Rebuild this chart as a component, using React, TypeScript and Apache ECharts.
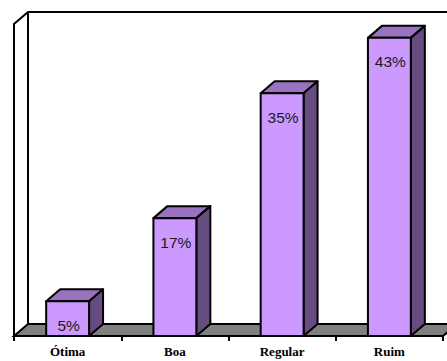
import React, { useEffect, useRef } from "react";
import * as echarts from "echarts";

const categories = ["Ótima", "Boa", "Regular", "Ruim"];
const percentages = [5, 17, 35, 43];

const AXIS_MAX = 45;
const DEPTH_X = 14;
const DEPTH_Y = 12;
const INK = "#000000";

// Back wall, side wall and floor of the 3D box, derived from the plot rectangle.
function renderRoom(params: any, api: any) {
  const cs = params.coordSys;
  const l = cs.x, r = cs.x + cs.width, t = cs.y, b = cs.y + cs.height;
  const lineStyle = { stroke: INK, lineWidth: 2, fill: "none" };
  return {
    type: "group",
    children: [
      {
        type: "polygon",
        shape: { points: [[l, b], [l + DEPTH_X, b - DEPTH_Y], [r + DEPTH_X, b - DEPTH_Y], [r, b]] },
        style: { fill: "#808080", stroke: INK, lineWidth: 2 },
      },
      {
        type: "polyline",
        shape: { points: [[l, b], [l, t], [l + DEPTH_X, t - DEPTH_Y], [r + DEPTH_X, t - DEPTH_Y]] },
        style: lineStyle,
      },
      {
        type: "line",
        shape: { x1: l + DEPTH_X, y1: t - DEPTH_Y, x2: l + DEPTH_X, y2: b - DEPTH_Y },
        style: lineStyle,
      },
    ],
  };
}

// One extruded column: top face, side face, front face and its percentage label.
function renderColumn(_params: any, api: any) {
  const value = api.value(1);
  const [cx, top] = api.coord([api.value(0), value]);
  const [, base] = api.coord([api.value(0), 0]);
  const width = api.size([1, 0])[0] * 0.4;
  const x0 = cx - width / 2;
  const x1 = cx + width / 2;
  const edge = { stroke: INK, lineWidth: 2, lineJoin: "round" };
  return {
    type: "group",
    children: [
      {
        type: "polygon",
        shape: { points: [[x0, top], [x0 + DEPTH_X, top - DEPTH_Y], [x1 + DEPTH_X, top - DEPTH_Y], [x1, top]] },
        style: { fill: "#9973BF", ...edge },
      },
      {
        type: "polygon",
        shape: { points: [[x1, top], [x1 + DEPTH_X, top - DEPTH_Y], [x1 + DEPTH_X, base - DEPTH_Y], [x1, base]] },
        style: { fill: "#664C80", ...edge },
      },
      {
        type: "rect",
        shape: { x: x0, y: top, width, height: base - top },
        style: { fill: "#CC99FF", ...edge },
      },
      {
        type: "text",
        x: cx + 1,
        y: top + 24,
        style: {
          text: `${value}%`,
          fill: "#1a1a1a",
          font: "15.5px 'Liberation Sans', Arial, sans-serif",
          textAlign: "center",
          textVerticalAlign: "middle",
        },
      },
    ],
  };
}

export default function App() {
  const ref = useRef<HTMLDivElement>(null);

  useEffect(() => {
    const chart = echarts.init(ref.current!, undefined, { renderer: "svg" });
    chart.setOption({
      animation: false,
      backgroundColor: "#ffffff",
      grid: { left: 14, right: 4, top: 24, bottom: 25 },
      xAxis: {
        type: "category",
        data: categories,
        boundaryGap: true,
        axisLine: { show: true, lineStyle: { color: INK, width: 2 } },
        axisTick: { show: true, length: 5, alignWithLabel: false, lineStyle: { color: INK, width: 2 } },
        axisLabel: {
          color: INK,
          fontFamily: "'Liberation Serif', 'Times New Roman', serif",
          fontWeight: "bold",
          fontSize: 13,
          margin: 9,
        },
      },
      yAxis: { type: "value", min: 0, max: AXIS_MAX, show: false, splitLine: { show: false } },
      series: [
        {
          type: "custom",
          name: "Caixa",
          renderItem: renderRoom,
          data: [[0, 0]],
          silent: true,
          z: 1,
        },
        {
          type: "custom",
          name: "Avaliação",
          renderItem: renderColumn,
          encode: { x: 0, y: 1 },
          data: percentages.map((v, i) => [i, v]),
          z: 3,
        },
      ],
    });
    return () => chart.dispose();
  }, []);

  return (
    <div
      ref={ref}
      style={{ position: "absolute", left: 0, top: 0, width: 447, height: 361 }}
    />
  );
}
